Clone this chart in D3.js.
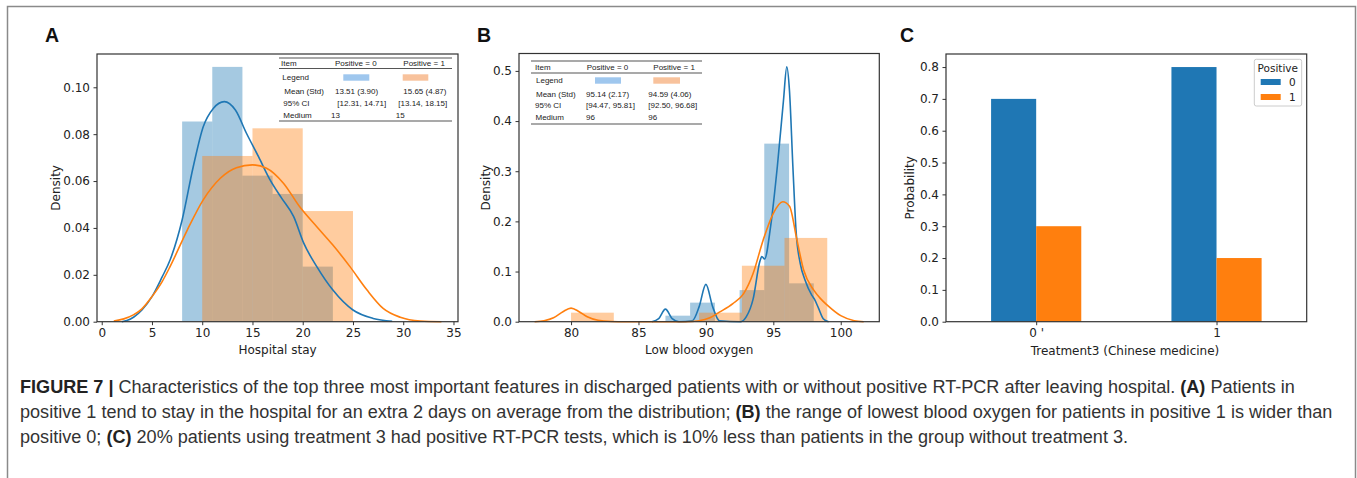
<!DOCTYPE html>
<html>
<head>
<meta charset="utf-8">
<script src="https://cdn.jsdelivr.net/npm/d3@7"></script>
<style>
body { margin: 0; background: #fff; }
svg { display: block; }
</style>
</head>
<body>
<div id="fig"></div>
<script>
// ---- data ----
// A: hospital stay
const stayBins0 = [8, 11, 14, 17, 20, 23];
const stayDens0 = [0.0854, 0.1087, 0.0623, 0.0545, 0.0235];
const stayBins1 = [10, 15, 20, 25];
const stayDens1 = [0.0707, 0.0825, 0.0472];
const stayKde0 = [[2.0,0],[2.5,0.0005],[3.2,0.002],[4.0,0.005],[5.0,0.0107],[6.0,0.019],[6.8,0.0263],[8.0,0.0434],[9.1,0.066],[10.1,0.0832],[11.1,0.091],[12.2,0.0939],[13.3,0.0903],[14.4,0.0804],[15.6,0.0704],[16.75,0.0605],[17.9,0.0527],[19.1,0.0448],[20.1,0.0335],[21.4,0.0235],[23.0,0.0135],[25.0,0.005],[27.0,0.0014],[28.9,0.0002]];
const stayKde1 = [[1.2,0.0003],[2.2,0.0012],[3.15,0.0029],[4.0,0.0055],[5.0,0.0107],[6.0,0.017],[6.8,0.0235],[8.5,0.039],[10.1,0.052],[11.8,0.0612],[13.4,0.0657],[15.0,0.0669],[16.4,0.0655],[18.1,0.059],[19.7,0.049],[21.4,0.0405],[23.0,0.0327],[24.7,0.0235],[26.4,0.0135],[28.0,0.0057],[29.7,0.0019],[31.7,0.0003],[33.8,0]];
const stayXTicks = [0, 5, 10, 15, 20, 25, 30, 35];
const stayYTicks = [0, 0.02, 0.04, 0.06, 0.08, 0.10];

// B: low blood oxygen
const oxyBins0 = [87, 88.83, 90.67, 92.5, 94.33, 96.17, 98];
const oxyDens0 = [0.012, 0.038, 0, 0.063, 0.355, 0.0765];
const oxyBins1 = [80, 83.17, 86.33, 89.5, 92.67, 95.83, 99];
const oxyDens1 = [0.018, 0, 0, 0.018, 0.1116, 0.167];
const oxyKde0 = [[86.0,0],[86.5,0.006],[87.0,0.025],[87.5,0.006],[88.0,0],[89.0,0.002],[89.5,0.03],[90.0,0.0745],[90.5,0.03],[91.0,0.002],[92.6,0],[93.0,0.01],[93.5,0.045],[94.0,0.12],[94.15,0.13],[94.35,0.125],[94.8,0.19],[95.3,0.31],[95.75,0.44],[96.0,0.508],[96.2,0.46],[96.45,0.31],[96.7,0.176],[97.0,0.116],[97.35,0.083],[97.85,0.053],[98.05,0.045],[98.35,0.027],[98.7,0.006],[99.1,0]];
const oxyKde1 = [[77.3,0],[78.0,0.002],[78.7,0.008],[79.4,0.02],[80.0,0.027],[80.6,0.02],[81.2,0.01],[82.0,0.003],[83.0,0.0005],[84,0],[88.5,0],[89.5,0.002],[90.3,0.008],[91.0,0.019],[92.0,0.036],[92.8,0.056],[93.5,0.096],[94.25,0.163],[95.0,0.216],[95.7,0.239],[96.2,0.23],[96.75,0.163],[97.25,0.103],[98.0,0.063],[98.5,0.046],[99.0,0.033],[100.0,0.012],[101.0,0.002],[101.7,0]];
const oxyXTicks = [80, 85, 90, 95, 100];
const oxyYTicks = [0, 0.1, 0.2, 0.3, 0.4, 0.5];

// C: treatment 3
const treatCats = ["0", "1"];
const treatLabels = ["0 '", "1"];
const probPos0 = [0.7, 0.8];
const probPos1 = [0.3, 0.2];
const probYTicks = [0, 0.1, 0.2, 0.3, 0.4, 0.5, 0.6, 0.7, 0.8];
const positiveKeys = ["0", "1"];

// summary tables
const tableItems = ["Item", "Legend", "Mean (Std)", "95% CI", "Medium"];
const stayStats0 = ["Positive = 0", null, "13.51 (3.90)", "[12.31, 14.71]", "13"];
const stayStats1 = ["Positive = 1", null, "15.65 (4.87)", "[13.14, 18.15]", "15"];
const oxyStats0 = ["Positive = 0", null, "95.14 (2.17)", "[94.47, 95.81]", "96"];
const oxyStats1 = ["Positive = 1", null, "94.59 (4.06)", "[92.50, 96.68]", "96"];

const BLUE = "#1f77b4", ORANGE = "#ff7f0e";
const TICKFONT = "DejaVu Sans, sans-serif";

const svg = d3.select("#fig").append("svg")
    .attr("width", 1357).attr("height", 478);

svg.append("rect").attr("x", 7.5).attr("y", 6.5).attr("width", 1348).attr("height", 480)
    .attr("fill", "#fff").attr("stroke", "#8a8a8a").attr("stroke-width", 1.5);

function frame(g, b) {
    g.append("rect").attr("x", b.left).attr("y", b.top)
        .attr("width", b.right - b.left).attr("height", b.bottom - b.top)
        .attr("fill", "none").attr("stroke", "#333").attr("stroke-width", 1.2);
}

function styleAxis(ax) {
    ax.select(".domain").remove();
    ax.selectAll(".tick line").attr("stroke", "#333").attr("stroke-width", 1);
    ax.selectAll(".tick text").attr("fill", "#222")
        .style("font-family", TICKFONT).style("font-size", "12px");
}

function axisLabels(g, b, xl, yl, ylX) {
    g.append("text").attr("x", (b.left + b.right) / 2).attr("y", 354)
        .attr("text-anchor", "middle").attr("fill", "#222")
        .style("font-family", TICKFONT).style("font-size", "12px").text(xl);
    g.append("text").attr("transform", `translate(${ylX},${(b.top + b.bottom) / 2}) rotate(-90)`)
        .attr("text-anchor", "middle").attr("fill", "#222")
        .style("font-family", TICKFONT).style("font-size", "12px").text(yl);
}

function panelLetter(x, letter) {
    svg.append("text").attr("x", x).attr("y", 42)
        .style("font-family", "Liberation Sans, Arial, sans-serif")
        .style("font-weight", "bold").style("font-size", "19.5px")
        .attr("fill", "#111").text(letter);
}

function histPanel(b, xDom, yDom, xTicks, yTicks, yFmt, series, xl, ylX) {
    const g = svg.append("g");
    const x = d3.scaleLinear().domain(xDom).range([b.left, b.right]);
    const y = d3.scaleLinear().domain(yDom).range([b.bottom, b.top]);
    const line = d3.line().x(d => x(d[0])).y(d => y(d[1])).curve(d3.curveMonotoneX);

    series.forEach(s => {
        const bars = s.dens.map((d, i) => ({ x0: s.bins[i], x1: s.bins[i + 1], d }));
        g.append("g").selectAll("rect").data(bars.filter(d => d.d > 0)).join("rect")
            .attr("x", d => x(d.x0)).attr("width", d => x(d.x1) - x(d.x0))
            .attr("y", d => y(d.d)).attr("height", d => y(0) - y(d.d))
            .attr("fill", s.color).attr("fill-opacity", 0.4);
    });
    series.forEach(s => {
        g.append("path").datum(s.kde).attr("d", line)
            .attr("fill", "none").attr("stroke", s.color).attr("stroke-width", 1.6);
    });

    const ax = g.append("g").attr("transform", `translate(0,${b.bottom})`)
        .call(d3.axisBottom(x).tickValues(xTicks).tickSize(3.5).tickPadding(3.5));
    styleAxis(ax);
    const ay = g.append("g").attr("transform", `translate(${b.left},0)`)
        .call(d3.axisLeft(y).tickValues(yTicks).tickFormat(d3.format(yFmt)).tickSize(3.5).tickPadding(3.5));
    styleAxis(ay);
    frame(g, b);
    axisLabels(g, b, xl, "Density", ylX);
}

function statTable(t, c0, c1) {
    const g = svg.append("g")
        .style("font-family", "Liberation Sans, Arial, sans-serif")
        .style("font-size", "8px").attr("fill", "#222");
    [t.top, t.head, t.bottom].forEach(yy => {
        g.append("line").attr("x1", t.x0).attr("x2", t.x1).attr("y1", yy).attr("y2", yy)
            .attr("stroke", "#555").attr("stroke-width", 1.1);
    });
    tableItems.forEach((it, i) => {
        g.append("text").attr("x", t.itemX[i]).attr("y", t.rows[i] + 2.9).text(it);
        [[c0, t.col0, "#9fc7ee"], [c1, t.col1, "#f8c29c"]].forEach(([col, xs, sw]) => {
            if (col[i] === null) {
                g.append("rect").attr("x", xs.sw[0]).attr("y", t.rows[i] - 3.2)
                    .attr("width", xs.sw[1] - xs.sw[0]).attr("height", 6.4).attr("fill", sw);
            } else {
                g.append("text").attr("x", xs.x[i]).attr("y", t.rows[i] + 2.9).text(col[i]);
            }
        });
    });
}

// ---- panel A ----
const bA = { left: 97, right: 458, top: 54, bottom: 321.7 };
histPanel(bA, [-0.47, 35.45], [0, 0.1142], stayXTicks, stayYTicks, ".2f",
    [{ bins: stayBins0, dens: stayDens0, kde: stayKde0, color: BLUE },
     { bins: stayBins1, dens: stayDens1, kde: stayKde1, color: ORANGE }],
    "Hospital stay", 60);
panelLetter(45, "A");
statTable({ x0: 279, x1: 452, top: 58, head: 68.5, bottom: 121,
    rows: [63.5, 77.5, 90.7, 103.3, 115],
    itemX: [281, 282.3, 284.3, 283.3, 283.3],
    col0: { x: [335, 0, 335, 337.3, 331], sw: [343.3, 369.3] },
    col1: { x: [403.3, 0, 403.3, 398.3, 395.7], sw: [402.7, 428.3] } },
    stayStats0, stayStats1);

// ---- panel B ----
const bB = { left: 519, right: 879.3, top: 53.5, bottom: 321.7 };
histPanel(bB, [76.14, 102.86], [0, 0.5347], oxyXTicks, oxyYTicks, ".1f",
    [{ bins: oxyBins0, dens: oxyDens0, kde: oxyKde0, color: BLUE },
     { bins: oxyBins1, dens: oxyDens1, kde: oxyKde1, color: ORANGE }],
    "Low blood oxygen", 490);
panelLetter(477, "B");
statTable({ x0: 531, x1: 702, top: 61, head: 73, bottom: 124,
    rows: [67, 80.5, 93.7, 105.5, 117],
    itemX: [535, 536, 536, 535, 535.5],
    col0: { x: [586.7, 0, 586, 586, 586], sw: [595, 621] },
    col1: { x: [653.3, 0, 648.3, 648.3, 648.3], sw: [653.3, 680] } },
    oxyStats0, oxyStats1);

// ---- panel C ----
const bC = { left: 946, right: 1306.7, top: 54, bottom: 321.7 };
{
    const g = svg.append("g");
    const x = d3.scaleLinear().domain([-0.5, 1.5]).range([bC.left, bC.right]);
    const y = d3.scaleLinear().domain([0, 0.841]).range([bC.bottom, bC.top]);
    const bw = 0.25;
    const rows = treatCats.map((c, i) => ({ i, v: [probPos0[i], probPos1[i]] }));
    [BLUE, ORANGE].forEach((col, k) => {
        g.append("g").selectAll("rect").data(rows).join("rect")
            .attr("x", d => x(d.i - bw + k * bw)).attr("width", x(bw) - x(0))
            .attr("y", d => y(d.v[k])).attr("height", d => y(0) - y(d.v[k]))
            .attr("fill", col);
    });
    const ax = g.append("g").attr("transform", `translate(0,${bC.bottom})`)
        .call(d3.axisBottom(x).tickValues(treatCats.map((c, i) => i))
            .tickFormat((d, i) => treatLabels[i]).tickSize(3.5).tickPadding(3.5));
    styleAxis(ax);
    const ay = g.append("g").attr("transform", `translate(${bC.left},0)`)
        .call(d3.axisLeft(y).tickValues(probYTicks).tickFormat(d3.format(".1f")).tickSize(3.5).tickPadding(3.5));
    styleAxis(ay);
    frame(g, bC);
    g.append("text").attr("x", 1125).attr("y", 355).attr("text-anchor", "middle").attr("fill", "#222")
        .style("font-family", TICKFONT).style("font-size", "12px").text("Treatment3 (Chinese medicine)");
    g.append("text").attr("transform", `translate(914,${(bC.top + bC.bottom) / 2}) rotate(-90)`)
        .attr("text-anchor", "middle").attr("fill", "#222")
        .style("font-family", TICKFONT).style("font-size", "12px").text("Probability");

    // legend
    const lg = g.append("g").style("font-family", TICKFONT).attr("fill", "#222");
    lg.append("rect").attr("x", 1254.3).attr("y", 59.3).attr("width", 47.4).attr("height", 46.7)
        .attr("rx", 2).attr("fill", "#fff").attr("stroke", "#ccc");
    lg.append("text").attr("x", 1277.8).attr("y", 71.5).attr("text-anchor", "middle")
        .style("font-size", "10.5px").text("Positive");
    positiveKeys.forEach((k, i) => {
        lg.append("rect").attr("x", 1260.7).attr("y", 79 + i * 15).attr("width", 20).attr("height", 6)
            .attr("fill", [BLUE, ORANGE][i]);
        lg.append("text").attr("x", 1289).attr("y", 86 + i * 14.5).style("font-size", "10.5px").text(k);
    });
}
panelLetter(900, "C");

// ---- caption ----
const capLines = [
    [["FIGURE 7 | ", true], ["Characteristics of the top three most important features in discharged patients with or without positive RT-PCR after leaving hospital. ", false], ["(A)", true], [" Patients in", false]],
    [["positive 1 tend to stay in the hospital for an extra 2 days on average from the distribution; ", false], ["(B)", true], [" the range of lowest blood oxygen for patients in positive 1 is wider than", false]],
    [["positive 0; ", false], ["(C)", true], [" 20% patients using treatment 3 had positive RT-PCR tests, which is 10% less than patients in the group without treatment 3.", false]]
];
const cap = svg.append("g").style("font-family", "Liberation Sans, Arial, sans-serif")
    .style("font-size", "18px").attr("fill", "#333");
const capTexts = capLines.map((ln, i) => {
    const t = cap.append("text").attr("x", 20).attr("y", 392.5 + i * 25).attr("xml:space", "preserve");
    ln.forEach(([s, b]) => t.append("tspan").style("font-weight", b ? "bold" : "normal")
        .attr("fill", b ? "#222" : "#333").text(s));
    return t;
});
// size the caption so the second line runs to the same right edge as in the figure
const w2 = capTexts[1].node().getComputedTextLength();
cap.style("font-size", (18 * 1313 / w2).toFixed(2) + "px");
</script>
</body>
</html>
